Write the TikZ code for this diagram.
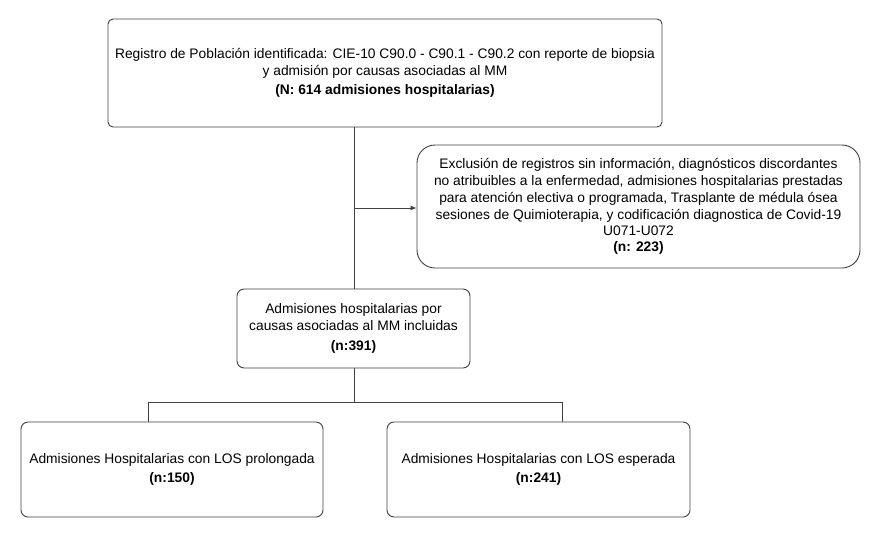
\documentclass[tikz,border=0pt]{standalone}
\usepackage{fontspec}
\setmainfont{Liberation Sans}
\usetikzlibrary{arrows.meta}
\begin{document}
\begin{tikzpicture}[x=1pt,y=-1pt,
  box/.style={draw=black!75, line width=0.9pt, rounded corners=#1, align=center, inner sep=0pt,
    font=\fontsize{13.8}{16.8}\selectfont},
  box/.default=5pt,
  conn/.style={draw=black!75, line width=0.9pt}]
\useasboundingbox (0,0) rectangle (877,536);
\node[box, minimum width=554pt, minimum height=108pt] (top) at (385,73)
  {Registro de Población identificada: CIE-10 C90.0 - C90.1 - C90.2 con reporte de biopsia\\
   y admisión por causas asociadas al MM\\[3pt]
   \textbf{(N: 614 admisiones hospitalarias)}};
\node[box=18pt, minimum width=443pt, minimum height=123pt] (excl) at (638.5,206.5)
  {Exclusión de registros sin información, diagnósticos discordantes\\
   no atribuibles a la enfermedad, admisiones hospitalarias prestadas\\
   para atención electiva o programada, Trasplante de médula ósea\\
   sesiones de Quimioterapia, y codificación diagnostica de Covid-19\\
   U071-U072\\[-1pt]
   \textbf{(n: 223)}};
\node[box=7pt, minimum width=233pt, minimum height=79pt] (mid) at (353.5,328.5)
  {Admisiones hospitalarias por\\
   causas asociadas al MM incluidas\\[4pt]
   \textbf{(n:391)}};
\node[box=7pt, minimum width=302pt, minimum height=95pt] (left) at (172,469.5)
  {Admisiones Hospitalarias con LOS prolongada\\[3pt]
   \textbf{(n:150)}};
\node[box=7pt, minimum width=303pt, minimum height=95pt] (right) at (538.5,469.5)
  {Admisiones Hospitalarias con LOS esperada\\[3pt]
   \textbf{(n:241)}};
\coordinate (j1) at (354,208);
\coordinate (j2) at (354,402);
\coordinate (lj) at (148,402);
\coordinate (rj) at (562,402);
\draw[conn] (top.south -| j1) -- (mid.north -| j1);
\draw[conn, -{Latex[length=6pt,width=5pt]}] (j1) -- (j1 -| excl.west);
\draw[conn] (mid.south -| j2) -- (j2);
\draw[conn] (lj) -- (rj);
\draw[conn] (lj) -- (lj |- left.north);
\draw[conn] (rj) -- (rj |- right.north);
\end{tikzpicture}
\end{document}
